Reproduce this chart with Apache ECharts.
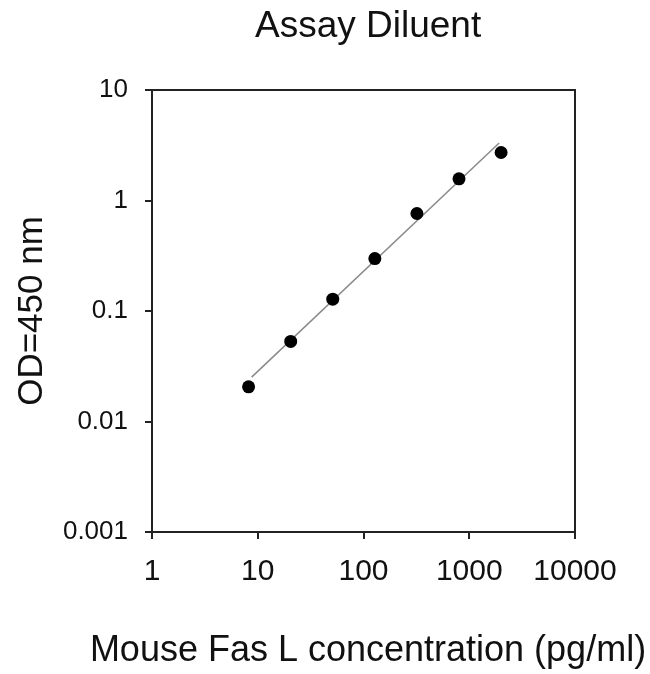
<!DOCTYPE html>
<html>
<head>
<meta charset="utf-8">
<script src="https://cdn.jsdelivr.net/npm/echarts@6/dist/echarts.min.js"></script>
<style>
  html, body { margin: 0; padding: 0; background: #fff; }
  #chart { width: 650px; height: 674px; }
</style>
</head>
<body>
<div id="chart"></div>
<script>
// standards, pg/ml (2.5 fold dilution)
const concentration = [8.19, 20.5, 51.2, 128, 320, 800, 2000];
const od450 = [0.0206, 0.053, 0.128, 0.298, 0.763, 1.57, 2.72];

// fitted line end points
const fitX = [8.75, 1918];
const fitY = [0.0252, 3.31];

const xTicks = [1, 10, 100, 1000, 10000];
const yTicks = [0.001, 0.01, 0.1, 1, 10];

const font = 'Liberation Sans, Arial, sans-serif';

function fmt(v) {
  return String(parseFloat(Number(v).toPrecision(3)));
}

const chart = echarts.init(document.getElementById('chart'));

const option = {
  animation: false,
  backgroundColor: '#fff',
  title: {
    text: 'Assay Diluent',
    left: 250,
    top: 3,
    textStyle: { fontFamily: font, fontSize: 37, fontWeight: 'normal', color: '#111' }
  },
  grid: {
    left: 152,
    right: 75,
    top: 90,
    bottom: 140,
    show: true,
    borderColor: '#222',
    borderWidth: 2
  },
  xAxis: {
    type: 'log',
    logBase: 10,
    min: xTicks[0],
    max: xTicks[xTicks.length - 1],
    name: 'Mouse Fas L concentration (pg/ml)',
    nameLocation: 'middle',
    nameGap: 101,
    nameTextStyle: { fontFamily: font, fontSize: 36, color: '#111', padding: [0, 0, 0, 9] },
    axisLine: { lineStyle: { color: '#222', width: 2 } },
    axisTick: { inside: false, length: 7, lineStyle: { color: '#222', width: 2 } },
    axisLabel: { fontFamily: font, fontSize: 30, color: '#111', margin: 25, formatter: fmt },
    splitLine: { show: false },
    minorTick: { show: false }
  },
  yAxis: {
    type: 'log',
    logBase: 10,
    min: yTicks[0],
    max: yTicks[yTicks.length - 1],
    name: 'OD=450 nm',
    nameLocation: 'middle',
    nameGap: 102,
    nameRotate: 90,
    nameTextStyle: { fontFamily: font, fontSize: 35, color: '#111' },
    axisLine: { lineStyle: { color: '#222', width: 2 } },
    axisTick: { inside: false, length: 7, lineStyle: { color: '#222', width: 2 } },
    axisLabel: { fontFamily: font, fontSize: 26, color: '#111', margin: 24, formatter: fmt },
    splitLine: { show: false }
  },
  series: [
    {
      type: 'line',
      data: fitX.map((x, i) => [x, fitY[i]]),
      showSymbol: false,
      symbol: 'none',
      lineStyle: { color: '#8a8a8a', width: 1.5 },
      z: 1
    },
    {
      type: 'scatter',
      data: concentration.map((x, i) => [x, od450[i]]),
      symbol: 'circle',
      symbolSize: 13,
      itemStyle: { color: '#000', opacity: 1 },
      z: 2
    }
  ]
};

chart.setOption(option);
</script>
</body>
</html>
